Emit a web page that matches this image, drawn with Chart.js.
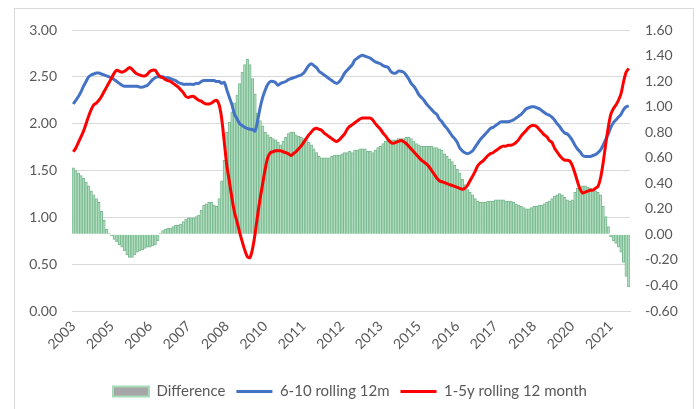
<!DOCTYPE html>
<html>
<head>
<meta charset="utf-8">
<script src="https://cdn.jsdelivr.net/npm/chart.js@4.4.1/dist/chart.umd.min.js"></script>
<style>
  html, body { margin: 0; padding: 0; background: #fff; }
  #wrap { width: 700px; height: 409px; position: relative; }
</style>
</head>
<body>
<div id="wrap"><canvas id="chart" width="700" height="409"></canvas></div>
<script>
// Monthly data, starting October 2003
const startYear = 2003;
const startMonth = 9; // October (0-based)

// Year labels shown every 15 months on the x axis
const tickLabels = ['2003', '2005', '2006', '2007', '2008', '2010', '2011', '2012',
    '2013', '2015', '2016', '2017', '2018', '2020', '2021'];

// 6-10 rolling 12m (left axis)
const rolling610 = [
    2.21, 2.25, 2.29, 2.34, 2.40, 2.45, 2.50, 2.52, 2.53, 2.54,
    2.54, 2.53, 2.52, 2.51, 2.50, 2.49, 2.47, 2.45, 2.43, 2.41,
    2.40, 2.40, 2.40, 2.40, 2.40, 2.40, 2.39, 2.39, 2.40, 2.41,
    2.44, 2.47, 2.49, 2.50, 2.50, 2.50, 2.49, 2.49, 2.48, 2.47,
    2.46, 2.44, 2.43, 2.42, 2.42, 2.42, 2.42, 2.42, 2.43, 2.43,
    2.45, 2.46, 2.46, 2.46, 2.46, 2.46, 2.45, 2.45, 2.43, 2.44,
    2.36, 2.28, 2.20, 2.10, 2.05, 2.00, 1.98, 1.96, 1.95, 1.94,
    1.94, 1.92, 2.03, 2.17, 2.28, 2.36, 2.42, 2.45, 2.45, 2.44,
    2.41, 2.43, 2.44, 2.45, 2.47, 2.48, 2.49, 2.50, 2.51, 2.52,
    2.54, 2.58, 2.62, 2.64, 2.62, 2.60, 2.56, 2.54, 2.52, 2.50,
    2.48, 2.46, 2.44, 2.43, 2.45, 2.49, 2.54, 2.57, 2.60, 2.63,
    2.68, 2.70, 2.72, 2.73, 2.72, 2.71, 2.70, 2.68, 2.66, 2.65,
    2.64, 2.62, 2.61, 2.60, 2.56, 2.54, 2.54, 2.56, 2.56, 2.55,
    2.52, 2.48, 2.43, 2.40, 2.36, 2.31, 2.28, 2.25, 2.21, 2.18,
    2.15, 2.12, 2.10, 2.05, 2.02, 1.98, 1.95, 1.91, 1.87, 1.84,
    1.80, 1.74, 1.71, 1.69, 1.68, 1.69, 1.71, 1.75, 1.79, 1.83,
    1.86, 1.89, 1.92, 1.95, 1.96, 1.98, 2.00, 2.02, 2.02, 2.02,
    2.02, 2.03, 2.04, 2.06, 2.08, 2.10, 2.13, 2.16, 2.17, 2.18,
    2.18, 2.17, 2.16, 2.14, 2.12, 2.10, 2.09, 2.07, 2.04, 2.00,
    1.97, 1.93, 1.90, 1.89, 1.86, 1.82, 1.77, 1.73, 1.70, 1.66,
    1.65, 1.65, 1.65, 1.66, 1.67, 1.69, 1.72, 1.77, 1.83, 1.89,
    1.96, 2.01, 2.04, 2.07, 2.10, 2.15, 2.18, 2.19
];

// 1-5y rolling 12 month (left axis)
const rolling15 = [
    1.70, 1.74, 1.80, 1.86, 1.92, 2.00, 2.08, 2.15, 2.20, 2.22,
    2.25, 2.29, 2.34, 2.39, 2.44, 2.49, 2.54, 2.57, 2.56, 2.55,
    2.56, 2.58, 2.60, 2.58, 2.55, 2.53, 2.52, 2.51, 2.51, 2.53,
    2.56, 2.57, 2.57, 2.53, 2.50, 2.49, 2.47, 2.46, 2.45, 2.43,
    2.41, 2.39, 2.36, 2.33, 2.29, 2.28, 2.29, 2.29, 2.27, 2.25,
    2.24, 2.22, 2.21, 2.21, 2.22, 2.24, 2.25, 2.20, 2.05, 1.80,
    1.55, 1.38, 1.20, 1.05, 0.95, 0.84, 0.74, 0.65, 0.58, 0.57,
    0.66, 0.82, 1.02, 1.20, 1.36, 1.52, 1.64, 1.69, 1.70, 1.71,
    1.71, 1.71, 1.70, 1.69, 1.68, 1.66, 1.68, 1.70, 1.73, 1.76,
    1.80, 1.84, 1.88, 1.91, 1.94, 1.95, 1.94, 1.93, 1.90, 1.88,
    1.86, 1.84, 1.82, 1.81, 1.83, 1.86, 1.89, 1.94, 1.97, 1.99,
    2.01, 2.03, 2.05, 2.06, 2.06, 2.06, 2.06, 2.04, 2.00, 1.97,
    1.94, 1.90, 1.87, 1.83, 1.80, 1.79, 1.80, 1.81, 1.82, 1.81,
    1.79, 1.76, 1.73, 1.70, 1.67, 1.64, 1.61, 1.59, 1.57, 1.54,
    1.50, 1.46, 1.42, 1.39, 1.38, 1.37, 1.36, 1.35, 1.34, 1.33,
    1.32, 1.31, 1.30, 1.31, 1.34, 1.39, 1.44, 1.49, 1.55, 1.58,
    1.60, 1.63, 1.66, 1.68, 1.69, 1.71, 1.73, 1.75, 1.76, 1.76,
    1.77, 1.77, 1.78, 1.80, 1.83, 1.87, 1.90, 1.93, 1.96, 1.98,
    1.98, 1.97, 1.94, 1.91, 1.88, 1.86, 1.82, 1.80, 1.74, 1.70,
    1.66, 1.63, 1.61, 1.61, 1.60, 1.55, 1.47, 1.38, 1.30, 1.26,
    1.27, 1.28, 1.29, 1.29, 1.31, 1.33, 1.42, 1.58, 1.78, 1.96,
    2.10, 2.16, 2.20, 2.25, 2.32, 2.45, 2.55, 2.59
];

// Difference (right axis)
const difference = [
    0.52, 0.50, 0.48, 0.46, 0.44, 0.41, 0.38, 0.34, 0.31, 0.28,
    0.25, 0.18, 0.11, 0.04, 0.01, -0.01, -0.04, -0.06, -0.08, -0.10,
    -0.13, -0.16, -0.18, -0.18, -0.16, -0.14, -0.13, -0.12, -0.11, -0.10,
    -0.10, -0.09, -0.08, -0.05, 0.01, 0.03, 0.04, 0.05, 0.05, 0.06,
    0.07, 0.07, 0.08, 0.10, 0.12, 0.13, 0.13, 0.13, 0.14, 0.15,
    0.19, 0.23, 0.24, 0.25, 0.25, 0.23, 0.22, 0.28, 0.42, 0.58,
    0.80, 0.88, 0.96, 1.03, 1.09, 1.18, 1.27, 1.33, 1.37, 1.33,
    1.22, 1.10, 0.95, 0.89, 0.85, 0.80, 0.78, 0.76, 0.75, 0.74,
    0.72, 0.70, 0.73, 0.76, 0.79, 0.80, 0.80, 0.78, 0.77, 0.76,
    0.75, 0.74, 0.72, 0.70, 0.67, 0.64, 0.61, 0.60, 0.60, 0.60,
    0.60, 0.61, 0.62, 0.62, 0.62, 0.63, 0.64, 0.64, 0.65, 0.64,
    0.66, 0.66, 0.67, 0.67, 0.67, 0.65, 0.65, 0.64, 0.66, 0.68,
    0.69, 0.71, 0.73, 0.74, 0.74, 0.74, 0.74, 0.75, 0.75, 0.75,
    0.76, 0.76, 0.75, 0.73, 0.71, 0.70, 0.69, 0.69, 0.69, 0.69,
    0.69, 0.68, 0.68, 0.67, 0.66, 0.63, 0.61, 0.59, 0.57, 0.54,
    0.51, 0.48, 0.43, 0.39, 0.35, 0.33, 0.31, 0.28, 0.26, 0.25,
    0.25, 0.25, 0.26, 0.26, 0.26, 0.27, 0.27, 0.27, 0.27, 0.26,
    0.26, 0.26, 0.25, 0.24, 0.23, 0.22, 0.21, 0.20, 0.20, 0.21,
    0.22, 0.22, 0.23, 0.23, 0.24, 0.25, 0.26, 0.28, 0.30, 0.31,
    0.32, 0.31, 0.29, 0.27, 0.26, 0.27, 0.33, 0.36, 0.37, 0.38,
    0.38, 0.37, 0.36, 0.35, 0.34, 0.33, 0.31, 0.22, 0.14, 0.06,
    -0.02, -0.05, -0.07, -0.10, -0.14, -0.22, -0.33, -0.41
];

// Month categories
const categories = [];
for (let i = 0; i < rolling610.length; i++) {
    const d = new Date(startYear, startMonth + i, 1);
    categories.push(d.getFullYear() + '-' + String(d.getMonth() + 1).padStart(2, '0'));
}

const FONT = "Lato, 'Open Sans', sans-serif";
const TEXT = '#595959';

// Light grey frame round the whole chart
const framePlugin = {
    id: 'frame',
    beforeDraw(chart) {
        const ctx = chart.ctx;
        ctx.save();
        ctx.strokeStyle = '#d9d9d9';
        ctx.lineWidth = 1;
        ctx.strokeRect(14.5, 8.5, 679, 420);
        ctx.restore();
    }
};

const ctx = document.getElementById('chart').getContext('2d');

new Chart(ctx, {
    type: 'bar',
    data: {
        labels: categories,
        datasets: [
            {
                type: 'bar',
                label: 'Difference',
                data: difference,
                yAxisID: 'y1',
                backgroundColor: '#b2e0c1',
                borderColor: '#7cb992',
                borderWidth: 1,
                barPercentage: 1.0,
                categoryPercentage: 1.0,
                order: 3
            },
            {
                type: 'line',
                label: '6-10 rolling 12m',
                data: rolling610,
                yAxisID: 'y',
                borderColor: '#4472c4',
                borderWidth: 3,
                pointRadius: 0,
                tension: 0.3,
                order: 2
            },
            {
                type: 'line',
                label: '1-5y rolling 12 month',
                data: rolling15,
                yAxisID: 'y',
                borderColor: '#ff0000',
                borderWidth: 3,
                pointRadius: 0,
                tension: 0.3,
                order: 1
            }
        ]
    },
    options: {
        responsive: false,
        animation: false,
        layout: { padding: { top: 30, left: 0, right: 0, bottom: 0 } },
        plugins: {
            tooltip: { enabled: false },
            legend: {
                position: 'bottom',
                labels: {
                    font: { family: FONT, size: 15 },
                    color: TEXT,
                    usePointStyle: true,
                    pointStyleWidth: 36,
                    boxWidth: 36,
                    boxHeight: 10,
                    padding: 11,
                    generateLabels(chart) {
                        return chart.data.datasets.map((ds, i) => ({
                            text: ds.label,
                            datasetIndex: i,
                            fillStyle: ds.type === 'bar' ? '#a6a6a6' : ds.borderColor,
                            strokeStyle: ds.type === 'bar' ? '#a8dcb9' : ds.borderColor,
                            lineWidth: ds.type === 'bar' ? 2 : 3,
                            pointStyle: ds.type === 'bar' ? 'rect' : 'line',
                            fontColor: TEXT
                        }));
                    }
                }
            }
        },
        scales: {
            x: {
                offset: true,
                afterFit(scale) { scale.height = 62; },
                grid: {
                    offset: true,
                    drawOnChartArea: false,
                    drawTicks: true,
                    tickLength: 5,
                    color: (c) => (c.index % 15 === 0 ? '#d9d9d9' : 'rgba(0,0,0,0)')
                },
                border: { display: true, color: '#d9d9d9' },
                ticks: {
                    autoSkip: false,
                    minRotation: 45,
                    maxRotation: 45,
                    padding: 2,
                    color: TEXT,
                    font: { family: FONT, size: 14 },
                    callback: (val, i) => (i % 15 === 0 ? tickLabels[i / 15] : null)
                }
            },
            y: {
                position: 'left',
                min: 0,
                max: 3,
                afterFit(scale) { scale.width = 72; },
                grid: { color: '#d9d9d9', drawTicks: false },
                border: { display: false },
                ticks: {
                    stepSize: 0.5,
                    padding: 15,
                    color: TEXT,
                    font: { family: FONT, size: 14 },
                    callback: (v) => v.toFixed(2)
                }
            },
            y1: {
                position: 'right',
                min: -0.6,
                max: 1.6,
                afterFit(scale) { scale.width = 70; },
                grid: { drawOnChartArea: false, drawTicks: false },
                border: { display: false },
                ticks: {
                    stepSize: 0.2,
                    padding: 15,
                    color: TEXT,
                    font: { family: FONT, size: 14 },
                    callback: (v) => v.toFixed(2)
                }
            }
        }
    },
    plugins: [framePlugin]
});
</script>
</body>
</html>
